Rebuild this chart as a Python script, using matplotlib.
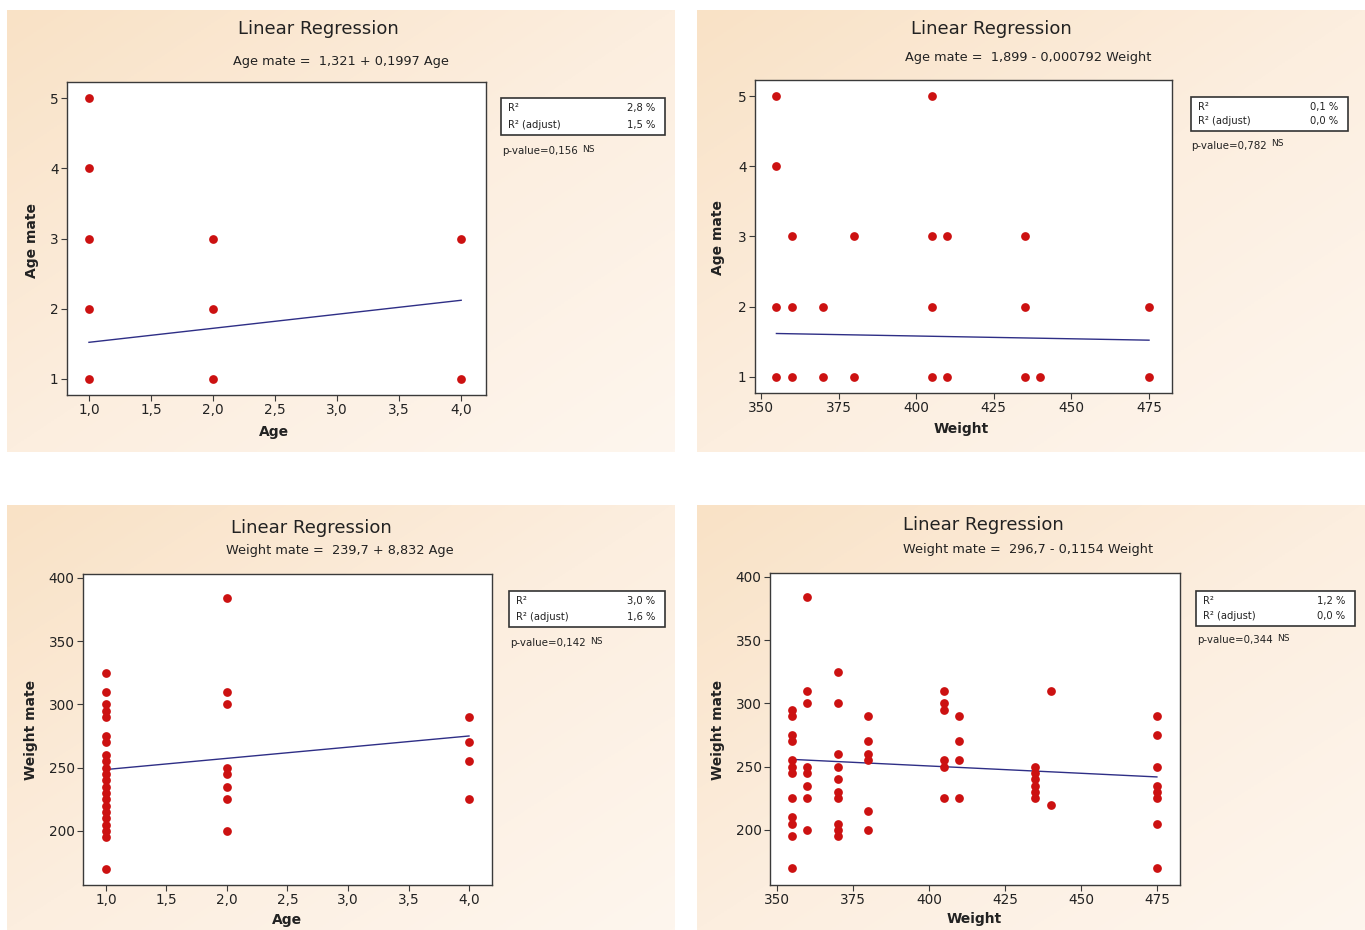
import numpy as np
import matplotlib
matplotlib.use("Agg")
import matplotlib.pyplot as plt
from matplotlib.patches import Rectangle
from matplotlib.ticker import FuncFormatter
from matplotlib.colors import LinearSegmentedColormap

W, H = 1365, 930

# --- data ---
age_a = [1, 1, 1, 1, 1, 2, 2, 2, 4, 4]
age_mate_a = [1, 2, 3, 4, 5, 1, 2, 3, 1, 3]

weight_b = [355, 355, 355, 355, 360, 360, 360, 370, 370, 380, 380,
            405, 405, 405, 405, 410, 410, 435, 435, 435, 440, 475, 475]
age_mate_b = [1, 2, 4, 5, 1, 2, 3, 1, 2, 1, 3,
              1, 2, 3, 5, 1, 3, 1, 2, 3, 1, 1, 2]

age_c = [1] * 22 + [2] * 8 + [4] * 4
weight_mate_c = [170, 195, 200, 205, 210, 215, 220, 225, 230, 235, 240, 245,
                 250, 255, 260, 270, 275, 290, 295, 300, 310, 325,
                 200, 225, 235, 245, 250, 300, 310, 384,
                 225, 255, 270, 290]

weight_d = ([355] * 12 + [360] * 8 + [370] * 10 + [380] * 6 + [405] * 6 +
            [410] * 4 + [435] * 6 + [440] * 2 + [475] * 8)
weight_mate_d = [295, 290, 275, 270, 255, 250, 245, 225, 210, 205, 195, 170,
                 384, 310, 300, 250, 245, 235, 225, 200,
                 325, 300, 260, 250, 240, 230, 225, 205, 200, 195,
                 290, 270, 260, 255, 215, 200,
                 310, 300, 295, 255, 250, 225,
                 290, 270, 255, 225,
                 250, 245, 240, 235, 230, 225,
                 310, 220,
                 290, 275, 250, 235, 230, 225, 205, 170]

# intercept, slope from the fitted equations
fits = [(1.321, 0.1997), (1.899, -0.000792), (239.7, 8.832), (296.7, -0.1154)]
equations = ["Age mate =  1,321 + 0,1997 Age",
             "Age mate =  1,899 - 0,000792 Weight",
             "Weight mate =  239,7 + 8,832 Age",
             "Weight mate =  296,7 - 0,1154 Weight"]
r_sq = ["2,8 %", "0,1 %", "3,0 %", "1,2 %"]
r_sq_adj = ["1,5 %", "0,0 %", "1,6 %", "0,0 %"]
p_values = ["0,156", "0,782", "0,142", "0,344"]
x_labels = ["Age", "Weight", "Age", "Weight"]
y_labels = ["Age mate", "Age mate", "Weight mate", "Weight mate"]

xs = [age_a, weight_b, age_c, weight_d]
ys = [age_mate_a, age_mate_b, weight_mate_c, weight_mate_d]

# --- layout in pixels ---
panels = [(7, 10, 675, 452), (697, 10, 1365, 452),
          (7, 505, 675, 930), (697, 505, 1365, 930)]
axes_box = [(67, 82, 486, 395), (755, 80, 1172, 393),
            (83, 574, 492, 885), (770, 573, 1180, 885)]
xlims = [(0.823, 4.2), (348.1, 482.4), (0.81, 4.19), (347.7, 482.6)]
ylims = [(0.77, 5.23), (0.77, 5.23), (157.3, 403), (156.5, 403)]
xticks = [np.arange(1, 4.01, 0.5), np.arange(350, 476, 25),
          np.arange(1, 4.01, 0.5), np.arange(350, 476, 25)]
yticks = [range(1, 6), range(1, 6), range(200, 401, 50), range(200, 401, 50)]
title_pos = [(318, 29), (991, 29), (311, 528), (983, 525)]
eq_pos = [(341, 61), (1028, 58), (340, 550), (1028, 549)]
xlab_pos = [(274, 432), (961, 429), (287, 920), (974, 919)]
ylab_pos = [(32, 240), (718, 237), (31, 730), (718, 730)]
stat_box = [(501, 98, 665, 135), (1191, 97, 1348, 131),
            (509, 591, 665, 627), (1196, 591, 1355, 626)]
pval_pos = [(502, 151), (1191, 146), (510, 643), (1197, 640)]


def fx(x):
    return x / W


def fy(y):
    return 1 - y / H


plt.rcParams['font.family'] = ['DejaVu Sans']
fig = plt.figure(figsize=(W / 100, H / 100), dpi=100)
fig.patch.set_facecolor("white")

bg_cmap = LinearSegmentedColormap.from_list("bg", ["#F9E2C6", "#FCEEDF", "#FEF6EE"])
gx, gy = np.meshgrid(np.linspace(0, 1, 200), np.linspace(0, 1, 200))
grad = (gx + gy) / 2

for i in range(4):
    x0, y0, x1, y1 = panels[i]
    bg = fig.add_axes([fx(x0), fy(y1), fx(x1 - x0), (y1 - y0) / H], zorder=0)
    bg.imshow(grad, cmap=bg_cmap, aspect="auto", origin="upper", vmin=0, vmax=1)
    bg.axis("off")

    a0, b0, a1, b1 = axes_box[i]
    ax = fig.add_axes([fx(a0), fy(b1), fx(a1 - a0), (b1 - b0) / H], zorder=2)
    ax.set_facecolor("white")
    ax.plot(xs[i], ys[i], "o", color="#CC1111", markersize=6.3,
            markeredgewidth=0, zorder=3)
    b, m = fits[i]
    lx = np.array([min(xs[i]), max(xs[i])])
    ax.plot(lx, b + m * lx, color="#2E2E86", lw=1.0, zorder=2)
    ax.set_xlim(*xlims[i])
    ax.set_ylim(*ylims[i])
    ax.set_xticks(xticks[i])
    ax.set_yticks(list(yticks[i]))
    if i in (0, 2):
        ax.xaxis.set_major_formatter(FuncFormatter(lambda v, p: ("%.1f" % v).replace(".", ",")))
    else:
        ax.xaxis.set_major_formatter(FuncFormatter(lambda v, p: "%d" % round(v)))
    ax.yaxis.set_major_formatter(FuncFormatter(lambda v, p: "%d" % round(v)))
    for s in ax.spines.values():
        s.set_color("#3A3A3A")
        s.set_linewidth(1.0)
    ax.tick_params(direction="out", length=4, width=0.8, color="#3A3A3A",
                   labelsize=9.8, labelcolor="#222222", pad=2)

    fig.text(fx(title_pos[i][0]), fy(title_pos[i][1]), "Linear Regression",
             ha="center", va="center", fontsize=13, color="#222222")
    fig.text(fx(eq_pos[i][0]), fy(eq_pos[i][1]), equations[i],
             ha="center", va="center", fontsize=9.3, color="#222222")
    fig.text(fx(xlab_pos[i][0]), fy(xlab_pos[i][1]), x_labels[i],
             ha="center", va="center", fontsize=10, fontweight="bold", color="#222222")
    fig.text(fx(ylab_pos[i][0]), fy(ylab_pos[i][1]), y_labels[i], rotation=90,
             ha="center", va="center", fontsize=10, fontweight="bold", color="#222222")

    # statistics box
    s0, t0, s1, t1 = stat_box[i]
    fig.patches.append(Rectangle((fx(s0), fy(t1)), fx(s1 - s0), (t1 - t0) / H,
                                 transform=fig.transFigure, facecolor="white",
                                 edgecolor="#333333", lw=1.2, zorder=3))
    r1 = t0 + (t1 - t0) * 0.28
    r2 = t0 + (t1 - t0) * 0.72
    fig.text(fx(s0 + 7), fy(r1), "R²", fontsize=7.2, va="center", color="#222222", zorder=4)
    fig.text(fx(s0 + 7), fy(r2), "R² (adjust)", fontsize=7.2, va="center", color="#222222", zorder=4)
    fig.text(fx(s1 - 10), fy(r1), r_sq[i], fontsize=7.2, va="center", ha="right", color="#222222", zorder=4)
    fig.text(fx(s1 - 10), fy(r2), r_sq_adj[i], fontsize=7.2, va="center", ha="right", color="#222222", zorder=4)
    px0, py0 = pval_pos[i]
    fig.text(fx(px0), fy(py0), "p-value=" + p_values[i], fontsize=7.4,
             va="center", color="#222222")
    fig.text(fx(px0 + 80), fy(py0 - 2), "NS", fontsize=6.6, va="center", color="#222222")

fig.savefig("out.png", dpi=100, facecolor="white")
